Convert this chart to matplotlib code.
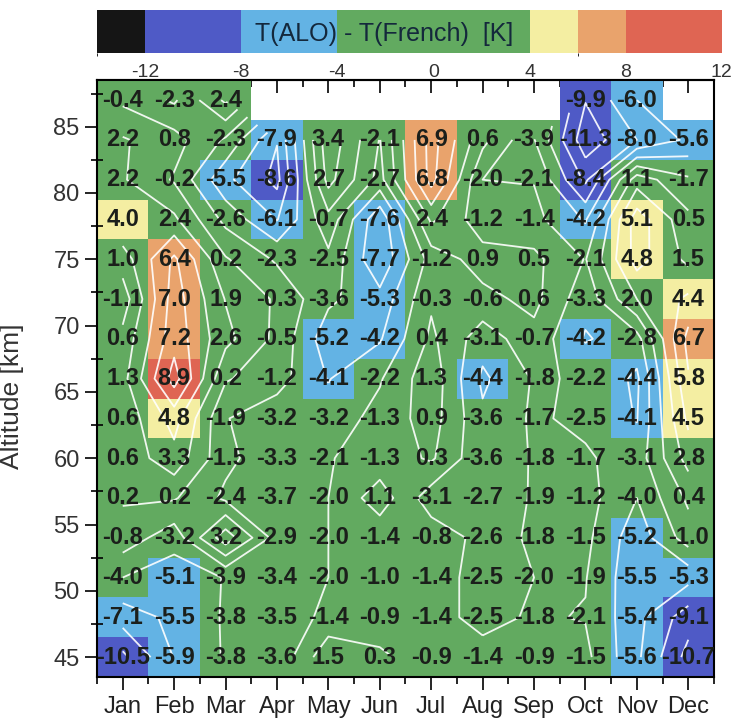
import numpy as np
import matplotlib.pyplot as plt
from matplotlib.colors import ListedColormap, BoundaryNorm
from matplotlib.ticker import FixedLocator

plt.rcParams['font.family'] = ['Liberation Sans', 'DejaVu Sans']

months = ['Jan', 'Feb', 'Mar', 'Apr', 'May', 'Jun',
          'Jul', 'Aug', 'Sep', 'Oct', 'Nov', 'Dec']
altitudes = [45, 48, 51, 54, 57, 60, 63, 66, 69, 72, 75, 78, 81, 84, 87]

# monthly mean temperature difference [K], one row per altitude (bottom to top)
nan = np.nan
dT = np.array([
    [-10.5, -5.9, -3.8, -3.6, 1.5, 0.3, -0.9, -1.4, -0.9, -1.5, -5.6, -10.7],
    [-7.1, -5.5, -3.8, -3.5, -1.4, -0.9, -1.4, -2.5, -1.8, -2.1, -5.4, -9.1],
    [-4.0, -5.1, -3.9, -3.4, -2.0, -1.0, -1.4, -2.5, -2.0, -1.9, -5.5, -5.3],
    [-0.8, -3.2, 3.2, -2.9, -2.0, -1.4, -0.8, -2.6, -1.8, -1.5, -5.2, -1.0],
    [0.2, 0.2, -2.4, -3.7, -2.0, 1.1, -3.1, -2.7, -1.9, -1.2, -4.0, 0.4],
    [0.6, 3.3, -1.5, -3.3, -2.1, -1.3, 0.3, -3.6, -1.8, -1.7, -3.1, 2.8],
    [0.6, 4.8, -1.9, -3.2, -3.2, -1.3, 0.9, -3.6, -1.7, -2.5, -4.1, 4.5],
    [1.3, 8.9, 0.2, -1.2, -4.1, -2.2, 1.3, -4.4, -1.8, -2.2, -4.4, 5.8],
    [0.6, 7.2, 2.6, -0.5, -5.2, -4.2, 0.4, -3.1, -0.7, -4.2, -2.8, 6.7],
    [-1.1, 7.0, 1.9, -0.3, -3.6, -5.3, -0.3, -0.6, 0.6, -3.3, 2.0, 4.4],
    [1.0, 6.4, 0.2, -2.3, -2.5, -7.7, -1.2, 0.9, 0.5, -2.1, 4.8, 1.5],
    [4.0, 2.4, -2.6, -6.1, -0.7, -7.6, 2.4, -1.2, -1.4, -4.2, 5.1, 0.5],
    [2.2, -0.2, -5.5, -8.6, 2.7, -2.7, 6.8, -2.0, -2.1, -8.4, 1.1, -1.7],
    [2.2, 0.8, -2.3, -7.9, 3.4, -2.1, 6.9, 0.6, -3.9, -11.3, -8.0, -5.6],
    [-0.4, -2.3, 2.4, nan, nan, nan, nan, nan, nan, -9.9, -6.0, nan],
])

bounds = [-14, -12, -8, -4, 4, 6, 8, 12]
colors = ['#151515', '#4f5ac6', '#63b3e4', '#62aa60',
          '#f4eea2', '#e9a36c', '#df6553']
cbar_ticks = [-12, -8, -4, 0, 4, 8, 12]
contour_levels = [-12, -10, -8, -6, -4, -2, 0, 2, 4, 6, 8]

cmap = ListedColormap(colors)
norm = BoundaryNorm(bounds, cmap.N)
data = np.ma.masked_invalid(dT)

fig = plt.figure(figsize=(7.36, 7.19), dpi=100)
ax = fig.add_axes([0.1318, 0.0584, 0.8383, 0.830])
cax = fig.add_axes([0.1318, 0.9263, 0.849, 0.0598])

x_edges = np.arange(len(months) + 1)
y_edges = np.arange(len(altitudes) + 1) * 3 + altitudes[0] - 1.5
mesh = ax.pcolormesh(x_edges, y_edges, data, cmap=cmap, norm=norm)

xc = np.arange(len(months)) + 0.5
ax.contour(xc, altitudes, data, levels=contour_levels, colors='white',
           linewidths=1.3, linestyles='solid', alpha=0.9)

for i, alt in enumerate(altitudes):
    for j in range(len(months)):
        v = dT[i, j]
        if np.isnan(v):
            continue
        ax.text(xc[j], alt, f'{v:.1f}', ha='center', va='center',
                fontsize=17, fontweight='bold', color='#1b1f1b', clip_on=True)

ax.set_xlim(0, 12)
ax.set_ylim(y_edges[0], y_edges[-1])
ax.xaxis.set_major_locator(FixedLocator(xc))
ax.xaxis.set_minor_locator(FixedLocator(x_edges))
ax.set_xticklabels(months, fontsize=17)
ax.yaxis.set_major_locator(FixedLocator([45, 50, 55, 60, 65, 70, 75, 80, 85]))
ax.yaxis.set_minor_locator(FixedLocator([47.5, 52.5, 57.5, 62.5, 67.5,
                                          72.5, 77.5, 82.5, 87.5]))
ax.tick_params(axis='y', which='major', labelsize=17, direction='out',
               length=9, width=1.2, labelcolor='#333333')
ax.tick_params(axis='y', which='minor', direction='inout', length=8, width=1.2)
ax.tick_params(axis='x', which='major', direction='out', length=9, width=1.2,
               pad=5, labelcolor='#222222')
ax.tick_params(axis='x', which='minor', direction='out', length=5, width=1.2)

# inward ticks along the top edge
top = ax.secondary_xaxis('top')
top.xaxis.set_major_locator(FixedLocator(xc))
top.xaxis.set_minor_locator(FixedLocator(x_edges))
top.tick_params(which='major', direction='in', length=9, width=1.2,
                labeltop=False)
top.tick_params(which='minor', direction='in', length=5, width=1.2)
top.spines['top'].set_linewidth(1.5)

ax.set_ylabel('Altitude [km]', fontsize=19, color='#333333')
ax.yaxis.set_label_coords(-0.118, 0.47)
for sp in ax.spines.values():
    sp.set_linewidth(1.5)

cbar = fig.colorbar(mesh, cax=cax, orientation='horizontal',
                    spacing='proportional', ticks=cbar_ticks)
cbar.outline.set_visible(False)
cbar.ax.tick_params(length=0, labelsize=14, pad=8, labelcolor='#333333')
cbar.ax.set_xticklabels([str(t) for t in cbar_ticks])
cax.text(0.46, 0.45, 'T(ALO) - T(French)  [K]', transform=cax.transAxes,
         ha='center', va='center', fontsize=18, color='#14283c')

fig.savefig('out.png', dpi=100)
